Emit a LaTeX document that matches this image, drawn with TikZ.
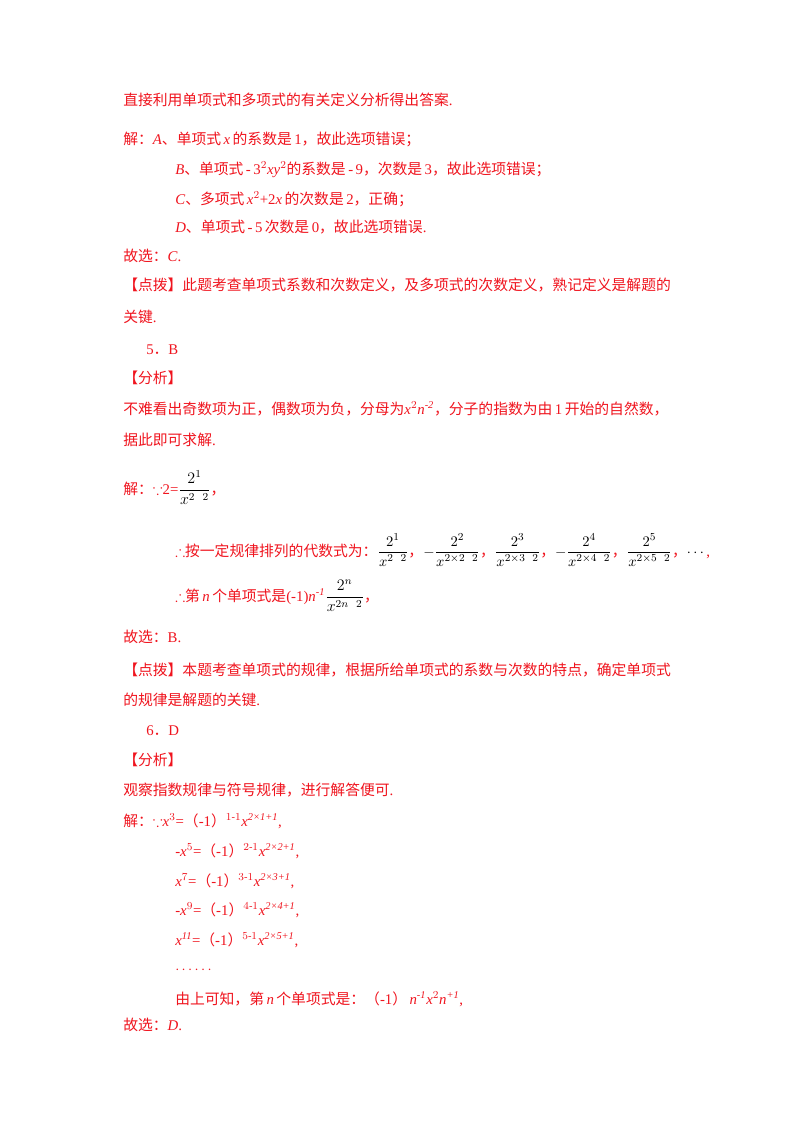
\documentclass[tikz,border=0pt]{standalone}
\usepackage{amsmath,amssymb}
\usepackage{fontspec}
\setmainfont{Liberation Serif}
\newfontfamily\cjk{Noto Sans CJK SC}
\definecolor{rd}{RGB}{240,20,30}
\begin{document}
\begin{tikzpicture}[x=0.75pt,y=-0.75pt,
  t/.style={anchor=base west,inner sep=0pt,text=rd,font=\fontsize{11.1}{13}\selectfont}]
\useasboundingbox[fill=white] (0,0) rectangle (800,1132);
\newcommand{\C}[1]{{\cjk #1}}
\newcommand{\F}[2]{\textcolor{black}{\large$\dfrac{#1}{#2}$}}
\newcommand{\G}[2]{\textcolor{black}{$\dfrac{#1}{#2}$}}
\newcommand{\M}{\textcolor{black}{$-$}}
\node[t] (l1) at (123,105) {\C{直接利用单项式和多项式的有关定义分析得出答案}.};
\node[t] (l2) at (123,144) {\C{解：}\textit{A}\C{、单项式}\,\textit{x}\,\C{的系数是}\,1\C{，故此选项错误；}};
\node[t] (l3) at (175,174) {\textit{B}\C{、单项式}\,-\,3$^2$\textit{xy}$^2$\C{的系数是}\,-\,9\C{，次数是}\,3\C{，故此选项错误；}};
\node[t] (l4) at (175,204) {\textit{C}\C{、多项式}\,\textit{x}$^2$+2\textit{x}\,\C{的次数是}\,2\C{，正确；}};
\node[t] (l5) at (175,232) {\textit{D}\C{、单项式}\,-\,5\,\C{次数是}\,0\C{，故此选项错误}.};
\node[t] (l6) at (123,261) {\C{故选：}\textit{C}.};
\node[t] (l7) at (123,290) {\C{【点拨】此题考查单项式系数和次数定义，及多项式的次数定义，熟记定义是解题的}};
\node[t] (l8) at (123,322) {\C{关键}.};
\node[t] (l9) at (146,354) {5\C{．}B};
\node[t] (l10) at (123,383) {\C{【分析】}};
\node[t] (l11) at (123,414) {\C{不难看出奇数项为正，偶数项为负，分母为}\textit{x}$^2$\textit{n}$^{\textit{-2}}$\C{，分子的指数为由}\,1\,\C{开始的自然数，}};
\node[t] (l12) at (123,445) {\C{据此即可求解}.};
\node[t] (l13) at (123,494) {\C{解：}$\because$2=\F{2^1}{x^{2\ \ 2}}\C{，}};
\node[t] (l14) at (175,556) {$\therefore$\C{按一定规律排列的代数式为：}\G{2^1}{x^{2\ \ 2}}\C{，}\M\G{2^2}{x^{2\times2\ \ 2}}\C{，}\G{2^3}{x^{2\times3\ \ 2}}\C{，}\M\G{2^4}{x^{2\times4\ \ 2}}\C{，}\G{2^5}{x^{2\times5\ \ 2}}\C{，}\textcolor{black}{$\cdots$},};
\node[t] (l15) at (175,601) {$\therefore$\C{第}\,\textit{n}\,\C{个单项式是}(-1)\textit{n}$^{\textit{-1}}$\F{2^n}{x^{2n\ \ 2}}\C{，}};
\node[t] (l16) at (123,642) {\C{故选：}B.};
\node[t] (l17) at (123,675) {\C{【点拨】本题考查单项式的规律，根据所给单项式的系数与次数的特点，确定单项式}};
\node[t] (l18) at (123,705) {\C{的规律是解题的关键}.};
\node[t] (l19) at (146,735) {6\C{．}D};
\node[t] (l20) at (123,765) {\C{【分析】}};
\node[t] (l21) at (123,795) {\C{观察指数规律与符号规律，进行解答便可}.};
\node[t] (l22) at (123,826) {\C{解：}$\because$\textit{x}$^3$=\C{（}-1\C{）}$^{1\text{-}1}$\textit{x}$^{\textit{2×1+1}}$,};
\node[t] (l23) at (175,856) {-\textit{x}$^5$=\C{（}-1\C{）}$^{2\text{-}1}$\textit{x}$^{\textit{2×2+1}}$,};
\node[t] (l24) at (175,886) {\textit{x}$^7$=\C{（}-1\C{）}$^{3\text{-}1}$\textit{x}$^{\textit{2×3+1}}$,};
\node[t] (l25) at (175,915) {-\textit{x}$^9$=\C{（}-1\C{）}$^{4\text{-}1}$\textit{x}$^{\textit{2×4+1}}$,};
\node[t] (l26) at (175,945) {\textit{x}$^{\textit{11}}$=\C{（}-1\C{）}$^{5\text{-}1}$\textit{x}$^{\textit{2×5+1}}$,};
\node[t] (l27) at (175,973) {$\cdots\cdots$};
\node[t] (l28) at (175,1004) {\C{由上可知，第}\,\textit{n}\,\C{个单项式是：（}-1\C{）}\,\textit{n}$^{\textit{-1}}$\textit{x}$^2$\textit{n}$^{\textit{+1}}$,};
\node[t] (l29) at (123,1030) {\C{故选：}\textit{D}.};
\end{tikzpicture}
\end{document}
